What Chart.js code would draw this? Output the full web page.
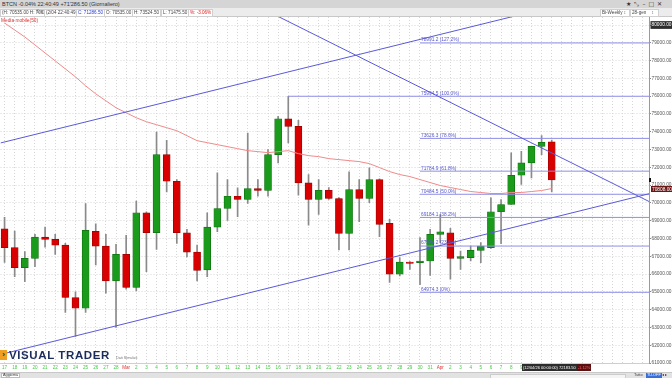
<!DOCTYPE html>
<html>
<head>
<meta charset="utf-8">
<script src="https://cdn.jsdelivr.net/npm/chart.js@4.4.1/dist/chart.umd.min.js"></script>
<style>
html, body { margin: 0; padding: 0; background: #fff; overflow: hidden; }
#wrap { position: relative; width: 672px; height: 378px; font-family: "Liberation Sans", Arial, sans-serif; }
#c { position: absolute; left: 0; top: 0; }
.abs { position: absolute; white-space: nowrap; }
#bar1 { left: 0; top: 0; width: 672px; height: 8px; background: #d5d5d5; font-size: 5.5px; line-height: 8px; color: #333; }
#bar2 { left: 0; top: 8px; width: 672px; height: 9px; background: #ececec; border-bottom: 1px solid #c8c8c8; box-sizing: border-box; font-size: 4.6px; line-height: 8px; color: #444; }
.fld { position: absolute; top: 1px; height: 6px; line-height: 6px; background: #fff; border: 1px solid #d0d0d0; box-sizing: content-box; padding: 0 1px; }
#ma { left: 1px; top: 18px; font-size: 4.8px; color: #e03030; }
#logo { left: 0; top: 348px; height: 14px; }
#logo .ico { position: absolute; left: 0; top: 2px; width: 7px; height: 10px; background: #f0a020; color: #1b2b5b; font-size: 8px; line-height: 10px; text-align: center; font-weight: bold; }
#logo .txt { position: absolute; left: 9px; top: 0; font-size: 11.5px; line-height: 14px; font-weight: bold; color: #1b2b5b; letter-spacing: 0.6px; }
#logo .sim { position: absolute; left: 116px; top: 8px; font-size: 3.8px; color: #777; }
#bot { left: 0; top: 372px; width: 672px; height: 6px; background: #e2e2e2; border-top: 1px solid #c8c8c8; box-sizing: border-box; font-size: 3.8px; line-height: 5px; color: #333; }
#tip { left: 522px; top: 364px; height: 7px; font-size: 4px; line-height: 7px; color: #fff; }
</style>
</head>
<body>
<div id="wrap">
<canvas id="c" width="672" height="378"></canvas>

<div id="bar1" class="abs">
  <span style="position:absolute;left:2px">BTCN -0.04% 22:40:49 +71'286.50 (Giornaliero)</span>
  <span style="position:absolute;left:626px;font-family:'DejaVu Sans';font-size:6px;letter-spacing:3px">★⤡–□✕</span>
</div>
<div id="bar2" class="abs">
  <span class="fld" style="left:0">(H: 70535.00 H: 70624.5)</span>
  <span style="position:absolute;left:36px;top:0;color:#888">Cross</span>
  <span class="fld" style="left:44px">(2/04 22:40:49)</span>
  <span class="fld" style="left:76px;color:#2a3ad0">C: 71286.50</span>
  <span class="fld" style="left:104px">O: 70535.00</span>
  <span class="fld" style="left:132px">H: 73524.50</span>
  <span class="fld" style="left:161px">L: 71475.50</span>
  <span class="fld" style="left:188px;color:#e02020">%: -3.06%</span>
  <span class="fld" style="left:600px;width:26px">Bi-Weekly &#8597;</span>
  <span class="fld" style="left:630px;width:25px">28-gen &nbsp;&nbsp;&nbsp;&#8597;</span>
</div>
<div id="ma" class="abs">Media mobile(50)</div>
<div id="logo" class="abs">
  <div class="ico">&#8250;</div>
  <div class="txt">VISUAL TRADER</div>
  <div class="sim">Dati Simulati</div>
</div>
<div id="tip" class="abs">
  <span style="background:#2c2c2c;padding:0 1px;display:inline-block">(12/04/26 00:00:00) 72183.50</span><span style="background:#5a1010;color:#ff6060;padding:0 1px;display:inline-block">-1.12%</span>
</div>
<div id="bot" class="abs">
  <span style="position:absolute;left:1px;top:0;background:#fff;border:1px solid #bbb;height:3px;line-height:3px;padding:0 1px">Aggiorna</span>
  <span style="position:absolute;left:490px;top:1px;width:134px;height:3px;background:#f4f4f4;border:1px solid #ccc"></span>
  <span style="position:absolute;left:634px;top:0">Tutto</span>
  <span style="position:absolute;left:646px;top:0;background:#3b6fd8;color:#fff;padding:0 1px">TU.OFF</span>
  <span style="position:absolute;left:662px;top:0">&#9666; &#9656;</span>
</div>
</div>

<script>
// daily candles, 17 Feb - 12 Apr
var dayLabels = ['17','18','19','20','21','22','23','24','25','26','27','28',
  'Mar','2','3','4','5','6','7','8','9','10','11','12','13','14','15','16','17','18','19','20',
  '21','22','23','24','25','26','27','28','29','30','31',
  'Apr','2','3','4','5','6','7','8','9','10','11','12'];

var opens  = [68549,67484,66363,66884,68078,67949,67629,64681,64082,68397,67573,65612,
  67108,65242,69446,68324,72714,71217,68324,67236,66229,68640,69687,70376,70191,70807,70695,72714,74731,74300,71127,
  70191,70712,70247,68285,70752,70247,71312,68846,65987,66677,66640,66733,
  68229,68324,66884,66920,67332,67484,69501,69911,71553,72248,73179,73426];
var highs  = [69182,68414,67260,68229,68640,68229,67725,64995,69967,68829,68229,67669,
  68173,70096,69500,73985,73515,71312,68509,67629,69446,71688,71312,70847,73929,71312,72994,74860,75994.5,74636,71592,
  71312,70864,70300,71744,71312,71968,71350,69070,66920,66700,68044,68509,
  69350,68565,67295,67574,67770,70286,70191,72809,72900,73200,73779,73524.5];
var lows   = [66660,65859,65578,66419,67518,67108,63840,62495,63840,66509,64922,63000,
  65146,65051,66138,67388,70623,67725,66957,65612,65859,68380,69010,69222,69967,70376,70376,72248,73369,70432,68751,
  69350,70191,67350,67350,68940,70006,68100,65523,65889,66265,65400,65930,
  67762,65706,66265,66733,66640,67445,67709,69911,71032,71407,72713,70623];
var closes = [67484,66363,66884,68078,67949,67629,64681,64082,68453,67573,65612,67108,
  65242,69446,68324,72714,71217,68324,67236,66211,68640,69687,70376,70191,70807,70695,72714,74731,74300,71127,70191,
  70712,70247,68285,70752,70247,71312,68790,65987,66677,66601,66733,68229,
  68380,66884,66976,67332,67574,69501,69911,71553,72248,73179,73403,71286.5];

// Media mobile(50)
var ma50 = [80112,79720,79327,78879,78430,77982,77533,77085,76581,76132,75740,75348,
  75067,74787,74563,74395,74227,74058,73778,73498,73386,73274,73162,73050,72937,72881,72825,72881,72937,72769,72657,
  72601,72489,72433,72377,72321,72209,71985,71760,71593,71481,71312,71144,
  70976,70864,70752,70640,70584,70527,70527,70584,70584,70640,70696,70808];

// trend lines: [dayIndex, price] end points
var upperLine = [[-0.4, 73369], [55, 81158]];
var lowerLine = [[-0.4, 61477], [63.6, 70513]];
var fallLine  = [[25, 81049], [63.6, 70079]];

// fibonacci levels
var fibValues = [78991.2, 75994.5, 73626.3, 71784.9, 70484.5, 69184.1, 67574.2, 64974.3];
var fibNames  = ['127.2%', '100.0%', '78.6%', '61.8%', '50.0%', '38.2%', '23.6%', '0%'];
var fibStart  = [41, 28, 41, 41, 41, 41, 41, 41];
var fibLabelAt = 41;

var yTicks = [61000,62000,63000,64000,65000,66000,67000,68000,69000,70000,
  71000,72000,73000,74000,75000,76000,77000,78000,79000,80000];

var X_MIN = -0.4, X_MAX = 63.6, Y_MIN = 61000, Y_MAX = 80450;
var RED = '#d80000', GREEN = '#1b9b1b';
var FONT = '"Liberation Sans", Arial, sans-serif';

function pts(arr) {
  return arr.map(function (p) { return { x: p[0], y: p[1] }; });
}

var datasets = [];
datasets.push({
  type: 'bar', label: 'wick', order: 6, grouped: false, barThickness: 1,
  backgroundColor: '#8a8a8a',
  data: opens.map(function (o, i) { return { x: i, y: [lows[i], highs[i]] }; })
});
datasets.push({
  type: 'bar', label: 'body', order: 5, grouped: false, barThickness: 7, minBarLength: 1,
  backgroundColor: opens.map(function (o, i) { return closes[i] >= o ? GREEN : RED; }),
  borderColor: opens.map(function (o, i) { return closes[i] >= o ? '#0f6f0f' : '#9a0000'; }),
  borderWidth: 0.7, borderSkipped: false,
  data: opens.map(function (o, i) { return { x: i, y: [o, closes[i]] }; })
});
datasets.push({
  type: 'line', label: 'ma50', order: 4, borderColor: '#ef8a8a', borderWidth: 1,
  pointRadius: 0, tension: 0,
  data: ma50.map(function (v, i) { return { x: i, y: v }; })
});
fibValues.forEach(function (v, k) {
  datasets.push({
    type: 'line', label: 'fib' + k, order: 3, borderColor: '#8e8ee6', borderWidth: 1,
    pointRadius: 0, data: [{ x: fibStart[k], y: v }, { x: X_MAX, y: v }]
  });
});
[upperLine, lowerLine, fallLine].forEach(function (l, k) {
  datasets.push({
    type: 'line', label: 'trend' + k, order: 2, borderColor: '#5a5ad8', borderWidth: 1,
    pointRadius: 0, data: pts(l)
  });
});

var overlay = {
  id: 'overlay',
  afterDatasetsDraw: function (chart) {
    var ctx = chart.ctx, x = chart.scales.x, y = chart.scales.y;
    ctx.save();
    ctx.font = '4.8px ' + FONT;
    ctx.fillStyle = '#5656cc';
    ctx.textBaseline = 'bottom';
    fibValues.forEach(function (v, k) {
      ctx.fillText(v.toFixed(1) + ' (' + fibNames[k] + ')',
        x.getPixelForValue(fibLabelAt) + 1, y.getPixelForValue(v) - 0.5);
    });
    ctx.restore();
  },
  afterDraw: function (chart) {
    var ctx = chart.ctx, y = chart.scales.y, area = chart.chartArea;
    ctx.save();
    // last close marker
    var yc = Math.round(y.getPixelForValue(closes[closes.length - 1]));
    ctx.fillStyle = '#111';
    ctx.fillRect(area.right, yc - 2, 2, 4);
    // moving average value box
    var ym = Math.round(y.getPixelForValue(ma50[ma50.length - 1]));
    ctx.fillStyle = '#6a1616';
    ctx.fillRect(area.right + 2, ym - 3, 672 - area.right - 2, 6);
    ctx.fillStyle = '#fff';
    ctx.font = '4.8px ' + FONT;
    ctx.textBaseline = 'middle';
    ctx.fillText(ma50[ma50.length - 1].toFixed(2), area.right + 3, ym + 0.3);
    ctx.restore();
  }
};

new Chart(document.getElementById('c'), {
  type: 'line',
  data: { datasets: datasets },
  options: {
    responsive: false,
    devicePixelRatio: 1,
    animation: false,
    layout: { padding: { top: 17, bottom: 6, left: 0, right: 0 } },
    plugins: { legend: { display: false }, tooltip: { enabled: false } },
    events: [],
    scales: {
      x: {
        type: 'linear', position: 'bottom', min: X_MIN, max: X_MAX, offset: false,
        afterBuildTicks: function (s) {
          var t = [];
          for (var i = 0; i <= 63; i++) t.push({ value: i });
          s.ticks = t;
        },
        afterFit: function (s) { s.height = 9; },
        grid: { color: '#d6d6d6', lineWidth: 1, drawTicks: false, offset: false },
        border: { color: '#cfcfcf', dash: [1, 2] },
        ticks: {
          autoSkip: false, maxRotation: 0, padding: 2,
          font: { family: FONT, size: 4.6 },
          color: function (c) {
            var l = dayLabels[c.tick && c.tick.value];
            return (l === 'Mar' || l === 'Apr') ? '#e03030' : '#46c846';
          },
          callback: function (v) { return dayLabels[v] || ''; }
        }
      },
      y: {
        type: 'linear', position: 'right', min: Y_MIN, max: Y_MAX,
        afterBuildTicks: function (s) {
          s.ticks = yTicks.map(function (v) { return { value: v }; });
        },
        afterFit: function (s) { s.width = 23; },
        grid: { color: '#d6d6d6', lineWidth: 1, drawTicks: true, tickLength: 2, tickColor: '#888' },
        border: { color: '#9a9a9a', dash: [1, 2] },
        ticks: {
          padding: 0.5,
          font: { family: FONT, size: 4.8 },
          color: function (c) { return c.tick && c.tick.value === 80000 ? '#fff' : '#555'; },
          showLabelBackdrop: function (c) { return !!(c.tick && c.tick.value === 80000); },
          backdropColor: '#2e2e2e',
          backdropPadding: 1,
          callback: function (v) { return v.toFixed(2); }
        }
      }
    }
  },
  plugins: [overlay]
});
</script>
</body>
</html>
